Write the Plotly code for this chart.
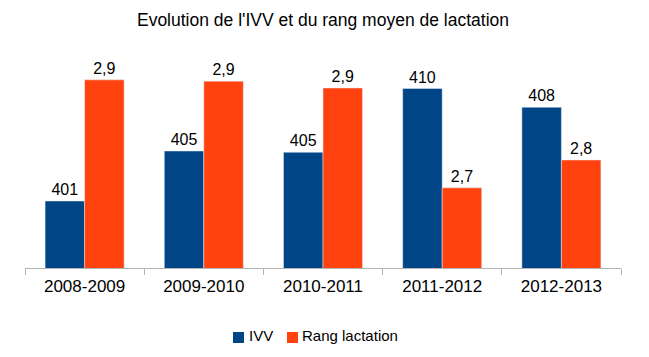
import plotly.graph_objects as go

categories = ["2008-2009", "2009-2010", "2010-2011", "2011-2012", "2012-2013"]
ivv = [400.8, 404.8, 404.7, 409.8, 408.3]
rang_lactation = [2.939, 2.936, 2.920, 2.687, 2.752]
series_names = ["IVV", "Rang lactation"]

BLUE = "#004586"
ORANGE = "#ff420e"
FONT = "Liberation Sans, Arial, sans-serif"

# The page body has an 8px margin; the figure is sized to fit the window.
W, H = 633, 341
OFF = 8
PL, PR, PT, PB = 25 - OFF, 621 - OFF, 60 - OFF, 268 - OFF  # plot area in figure px


def px(sx):
    return (sx - OFF - PL) / (PR - PL)


def py(sy):
    return (PB - (sy - OFF)) / (PB - PT)


fig = go.Figure()
fig.add_trace(go.Bar(
    x=categories, y=ivv, name=series_names[0], marker_color=BLUE,
    offsetgroup="a", yaxis="y",
    texttemplate="%{y:.0f}", textposition="outside",
    textfont=dict(color="black", size=16, family=FONT),
    cliponaxis=False,
))
fig.add_trace(go.Bar(
    x=categories, y=rang_lactation, name=series_names[1], marker_color=ORANGE,
    offsetgroup="b", yaxis="y2",
    texttemplate="%{y:.1f}", textposition="outside",
    textfont=dict(color="black", size=16, family=FONT),
    cliponaxis=False,
))

# legend drawn as swatches + text (matching the compact original legend)
legend_items = [(series_names[0], BLUE, 233, 249), (series_names[1], ORANGE, 287, 302)]
shapes, annotations = [], []
for name, color, sq_x, tx in legend_items:
    shapes.append(dict(type="rect", xref="paper", yref="paper",
                       x0=px(sq_x), x1=px(sq_x + 11), y0=py(343), y1=py(332),
                       fillcolor=color, line=dict(width=0)))
    annotations.append(dict(text=name, xref="paper", yref="paper",
                            x=px(tx - 2), y=py(335), xanchor="left", yanchor="middle",
                            showarrow=False,
                            font=dict(size=15, family=FONT, color="black")))

fig.update_layout(
    width=W, height=H,
    margin=dict(l=PL, r=W - PR, t=PT, b=H - PB, autoexpand=False),
    paper_bgcolor="white", plot_bgcolor="white",
    separators=", ",
    barmode="group", bargap=0.337, bargroupgap=0,
    font=dict(family=FONT, color="black"),
    title=dict(text="Evolution de l'IVV et du rang moyen de lactation",
               x=0.5, xref="paper", xanchor="center",
               y=1 - (20 - OFF) / H, yref="container", yanchor="middle",
               font=dict(size=17.5, family=FONT, color="black")),
    xaxis=dict(showline=True, linecolor="#b3b3b3", linewidth=1,
               ticks="outside", tickson="boundaries", ticklen=6,
               tickcolor="#b3b3b3", showgrid=False, ticklabelstandoff=3,
               tickfont=dict(size=17, family=FONT, color="black")),
    yaxis=dict(range=[395.44, 412.08], visible=False, showgrid=False),
    yaxis2=dict(range=[2.5, 2.9853], visible=False, showgrid=False,
                overlaying="y", side="right"),
    showlegend=False,
    shapes=shapes,
    annotations=annotations,
)

fig.write_html("out.html")
